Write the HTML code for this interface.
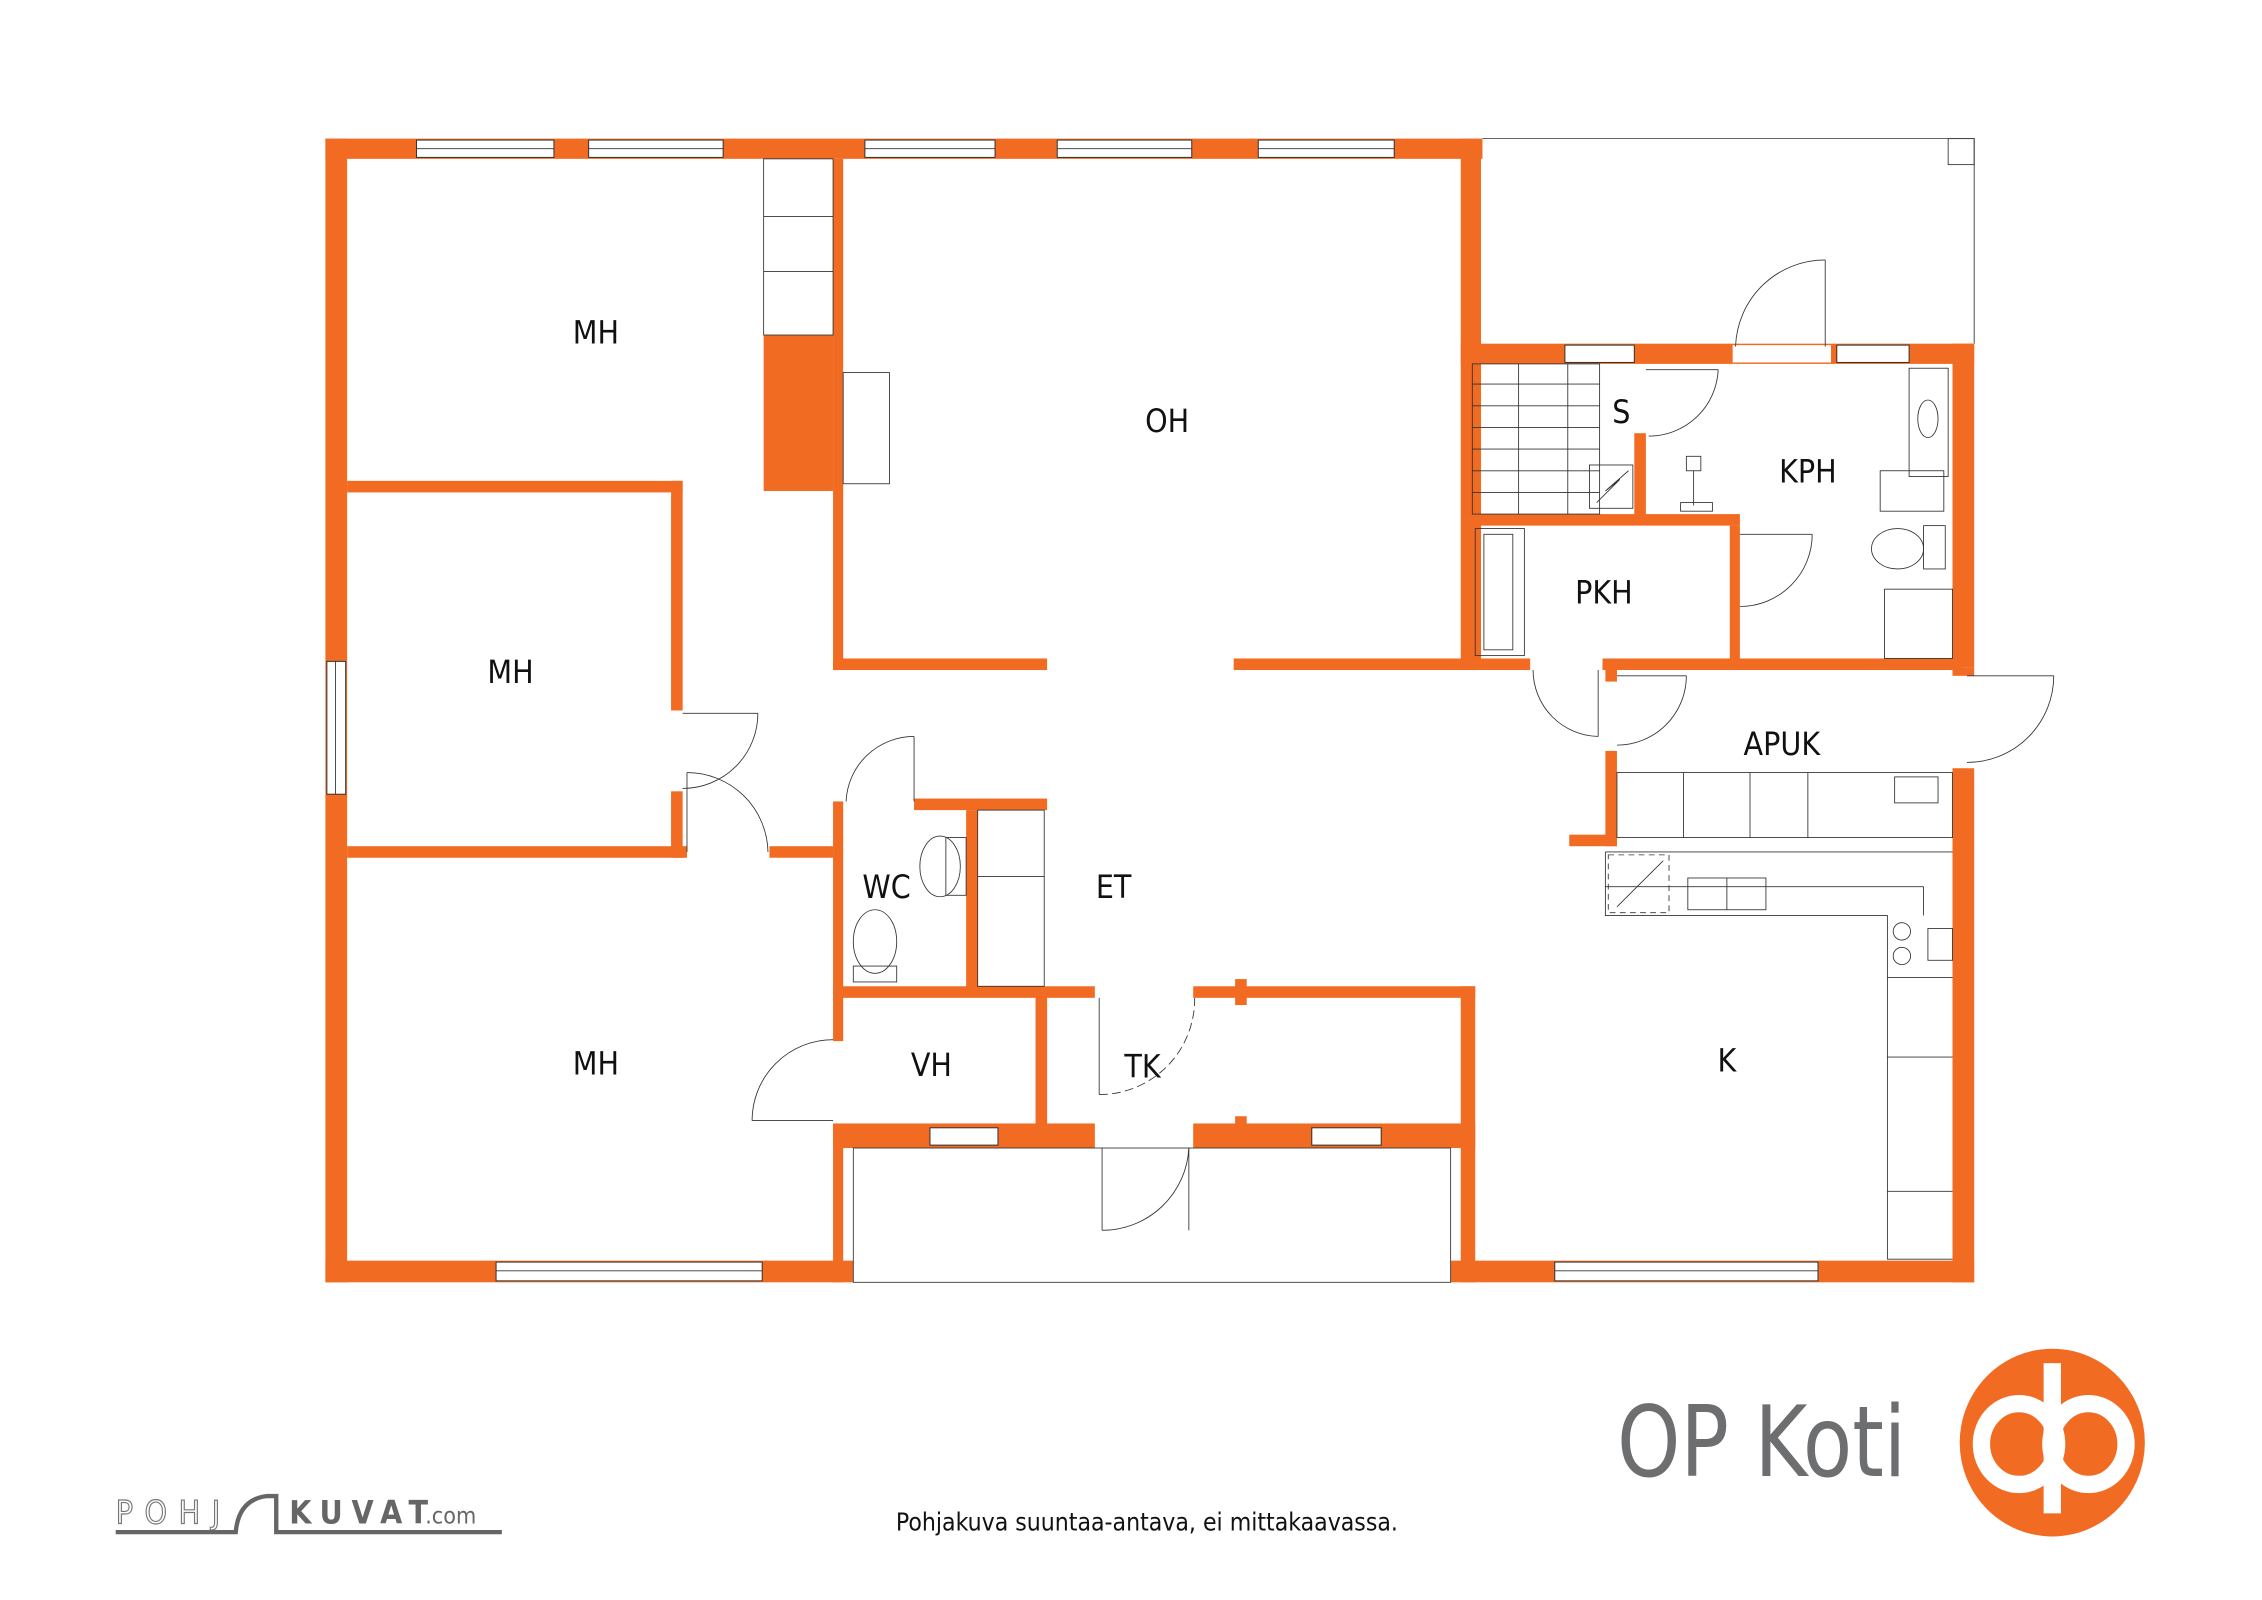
<!DOCTYPE html>
<html><head><meta charset="utf-8"><style>
html,body{margin:0;padding:0;background:#fff;width:2262px;height:1600px;overflow:hidden}
svg{display:block}
text{font-family:"DejaVu Sans Condensed","Liberation Sans",sans-serif}
</style></head><body>
<svg width="2262" height="1600" viewBox="0 0 1564 1108" preserveAspectRatio="none" xmlns="http://www.w3.org/2000/svg">
<rect width="1564" height="1108" fill="#fff"/>
<g fill="#f26b22">
<rect x="225" y="96" width="800" height="14"/>
<rect x="225" y="96" width="15" height="792"/>
<rect x="225" y="873" width="365" height="15"/>
<rect x="1003" y="873" width="362" height="15"/>
<rect x="1350" y="238" width="15" height="224"/>
<rect x="1350" y="532" width="15" height="356"/>
<rect x="1010" y="96" width="14" height="367"/>
<rect x="1010" y="238" width="355" height="14"/>
<rect x="576" y="456" width="148" height="8"/>
<rect x="853" y="456" width="205" height="8"/>
<rect x="1108" y="456" width="248" height="8"/>
<rect x="576" y="110" width="7" height="354"/>
<rect x="528" y="232" width="48" height="108"/>
<rect x="240" y="333" width="232" height="8"/>
<rect x="464" y="333" width="8" height="159"/>
<rect x="464" y="548" width="8" height="46"/>
<rect x="240" y="586" width="235" height="8"/>
<rect x="532" y="586" width="44" height="8"/>
<rect x="576" y="555" width="7" height="166"/>
<rect x="576" y="778" width="7" height="110"/>
<rect x="632" y="553" width="92" height="8"/>
<rect x="668" y="561" width="8" height="129"/>
<rect x="576" y="683" width="181" height="8"/>
<rect x="825" y="683" width="195" height="8"/>
<rect x="716" y="690" width="8" height="90"/>
<rect x="576" y="778" width="181" height="17"/>
<rect x="825" y="778" width="195" height="17"/>
<rect x="1010" y="683" width="10" height="205"/>
<rect x="854" y="678" width="8" height="18"/>
<rect x="854" y="773" width="8" height="18"/>
<rect x="1018" y="356" width="185" height="8"/>
<rect x="1130" y="300" width="8" height="58"/>
<rect x="1196" y="364" width="7" height="98"/>
<rect x="1110" y="462" width="8" height="10"/>
<rect x="1110" y="520" width="8" height="66"/>
<rect x="1085" y="578" width="33" height="8"/>
<rect x="1350" y="462" width="15" height="6"/>
</g>
<g fill="#fff" stroke="#333" stroke-width="0.7">
<rect x="288" y="97" width="95" height="12"/><rect x="407" y="97" width="93" height="12"/>
<rect x="598" y="97" width="90" height="12"/><rect x="731" y="97" width="93" height="12"/>
<rect x="870" y="97" width="94" height="12"/>
<rect x="226" y="458" width="13" height="92"/>
<rect x="343" y="874" width="184" height="13"/><rect x="1075" y="874" width="182" height="13"/>
<rect x="1082" y="239" width="48" height="12"/><rect x="1270" y="239" width="50" height="12"/>
<rect x="643" y="781" width="47" height="12"/><rect x="907" y="781" width="48" height="12"/>
<rect x="1198" y="239" width="68" height="12" stroke="none"/>
</g>
<g stroke="#333" stroke-width="0.6" fill="none">
<line x1="288" y1="103" x2="383" y2="103"/><line x1="407" y1="103" x2="500" y2="103"/><line x1="598" y1="103" x2="688" y2="103"/><line x1="731" y1="103" x2="824" y2="103"/><line x1="870" y1="103" x2="964" y2="103"/>
<line x1="343" y1="880" x2="527" y2="880"/><line x1="1075" y1="880" x2="1257" y2="880"/>
<line x1="232" y1="458" x2="232" y2="550"/>
<polyline points="1025,96 1365,96 1365,238"/>
<rect x="1347" y="96" width="18" height="18"/>
<rect x="590" y="795" width="413" height="93"/>
<rect x="528" y="110" width="48" height="122"/><line x1="528" y1="150" x2="576" y2="150"/><line x1="528" y1="188" x2="576" y2="188"/>
<rect x="583" y="258" width="32" height="77"/>
<rect x="1018" y="252" width="88" height="104"/>
<line x1="1018" y1="266" x2="1106" y2="266"/><line x1="1018" y1="281" x2="1106" y2="281"/><line x1="1018" y1="296" x2="1106" y2="296"/><line x1="1018" y1="311" x2="1106" y2="311"/><line x1="1018" y1="326" x2="1106" y2="326"/><line x1="1018" y1="341" x2="1106" y2="341"/>
<line x1="1050" y1="252" x2="1050" y2="356"/><line x1="1084" y1="252" x2="1084" y2="356"/>
<rect x="1099" y="322" width="30" height="30"/><polyline points="1104,348 1120,332 1110,340 1126,326"/>
<rect x="1320" y="255" width="27" height="75"/><ellipse cx="1333" cy="290" rx="7" ry="13"/>
<rect x="1300" y="326" width="44" height="28"/>
<ellipse cx="1312" cy="380" rx="18" ry="14"/><rect x="1330" y="364" width="15" height="30"/>
<rect x="1303" y="408" width="47" height="48"/>
<rect x="1166" y="316" width="10" height="10"/><line x1="1171" y1="326" x2="1171" y2="350"/><rect x="1162" y="348" width="22" height="6"/>
<rect x="1020" y="366" width="34" height="88"/><rect x="1026" y="370" width="20" height="80"/>
<rect x="1118" y="535" width="232" height="45"/><line x1="1164" y1="535" x2="1164" y2="580"/><line x1="1210" y1="535" x2="1210" y2="580"/><line x1="1250" y1="535" x2="1250" y2="580"/>
<rect x="1310" y="538" width="30" height="18"/>
<polyline points="1110,590 1350,590"/><polyline points="1110,590 1110,634 1305,634 1305,872 1350,872"/>
<rect x="1112" y="592" width="42" height="40" stroke-dasharray="4,3"/><line x1="1118" y1="628" x2="1150" y2="596"/>
<rect x="1167" y="608" width="54" height="22"/><line x1="1194" y1="608" x2="1194" y2="630"/>
<line x1="1110" y1="614" x2="1330" y2="614"/><line x1="1330" y1="614" x2="1330" y2="634"/>
<circle cx="1315" cy="645" r="6"/><circle cx="1315" cy="662" r="6"/><rect x="1333" y="643" width="17" height="22"/>
<line x1="1305" y1="677" x2="1350" y2="677"/><line x1="1305" y1="732" x2="1350" y2="732"/><line x1="1305" y1="825" x2="1350" y2="825"/>
<ellipse cx="650" cy="600" rx="14" ry="21"/><rect x="654" y="580" width="14" height="40"/>
<ellipse cx="605" cy="652" rx="15" ry="22"/><rect x="590" y="669" width="30" height="11"/>
<rect x="676" y="561" width="46" height="122"/><line x1="676" y1="607" x2="722" y2="607"/>
<line x1="632" y1="510" x2="632" y2="555"/><path d="M632,510 A47,47 0 0 0 585,555"/>
<line x1="472" y1="494" x2="524" y2="494"/><path d="M524,494 A52,52 0 0 1 472,546"/>
<line x1="475" y1="535" x2="475" y2="590"/><path d="M475,535 A56,56 0 0 1 531,590"/>
<line x1="520" y1="776" x2="576" y2="776"/><path d="M520,776 A56,56 0 0 1 576,720"/>
<line x1="760" y1="691" x2="760" y2="758"/><path d="M760,758 A66,66 0 0 0 826,691" stroke-dasharray="6,3"/>
<line x1="762" y1="795" x2="762" y2="852"/><path d="M762,852 A60,60 0 0 0 822,795"/><line x1="822" y1="795" x2="822" y2="852"/>
<line x1="1262" y1="180" x2="1262" y2="240"/><path d="M1262,180 A62,62 0 0 0 1200,240"/>
<line x1="1138" y1="256" x2="1188" y2="256"/><path d="M1188,256 A48,48 0 0 1 1140,302"/>
<line x1="1203" y1="370" x2="1253" y2="370"/><path d="M1253,370 A50,50 0 0 1 1203,420"/>
<line x1="1105" y1="464" x2="1105" y2="510"/><path d="M1105,510 A46,46 0 0 1 1060,464"/>
<line x1="1118" y1="468" x2="1166" y2="468"/><path d="M1166,468 A48,48 0 0 1 1118,516"/>
<line x1="1360" y1="468" x2="1420" y2="468"/><path d="M1420,468 A60,60 0 0 1 1360,528"/>
</g>
<g font-size="22" fill="#111" text-anchor="middle">
<text x="412" y="238">MH</text><text x="807" y="299">OH</text><text x="353" y="473">MH</text>
<text x="412" y="744">MH</text><text x="613" y="622">WC</text><text x="770" y="622">ET</text>
<text x="644" y="745">VH</text><text x="790" y="746">TK</text><text x="1194" y="742">K</text>
<text x="1109" y="418">PKH</text><text x="1250" y="334">KPH</text><text x="1121" y="293">S</text>
<text x="1232" y="523">APUK</text>
</g>
<text x="1118" y="1022" font-size="68" fill="#6d6e70" textLength="200" lengthAdjust="spacingAndGlyphs">OP Koti</text>
<ellipse cx="1419" cy="999" rx="64" ry="65" fill="#f26b22"/>
<g fill="none" stroke="#fff" stroke-width="12"><ellipse cx="1396" cy="1000" rx="26" ry="28"/><ellipse cx="1444" cy="1000" rx="26" ry="28"/></g>
<rect x="1413" y="944" width="12" height="104" fill="#fff"/>
<text x="793" y="1060" font-size="17" fill="#111" text-anchor="middle" font-family="Liberation Sans,sans-serif">Pohjakuva suuntaa-antava, ei mittakaavassa.</text>
<text x="80" y="1055" font-size="22" fill="#fff" stroke="#777" stroke-width="0.8" letter-spacing="8" font-family="Liberation Sans,sans-serif">POHJ</text>
<text x="200" y="1055" font-size="22" font-weight="bold" fill="#666" letter-spacing="6" font-family="Liberation Sans,sans-serif">KUVAT</text>
<text x="294" y="1055" font-size="16" fill="#666" font-family="Liberation Sans,sans-serif">.com</text>
<path d="M80,1061 H163 Q165,1038 185,1036 H191 V1061 H347" fill="none" stroke="#666" stroke-width="3"/>
</svg>
</body></html>
